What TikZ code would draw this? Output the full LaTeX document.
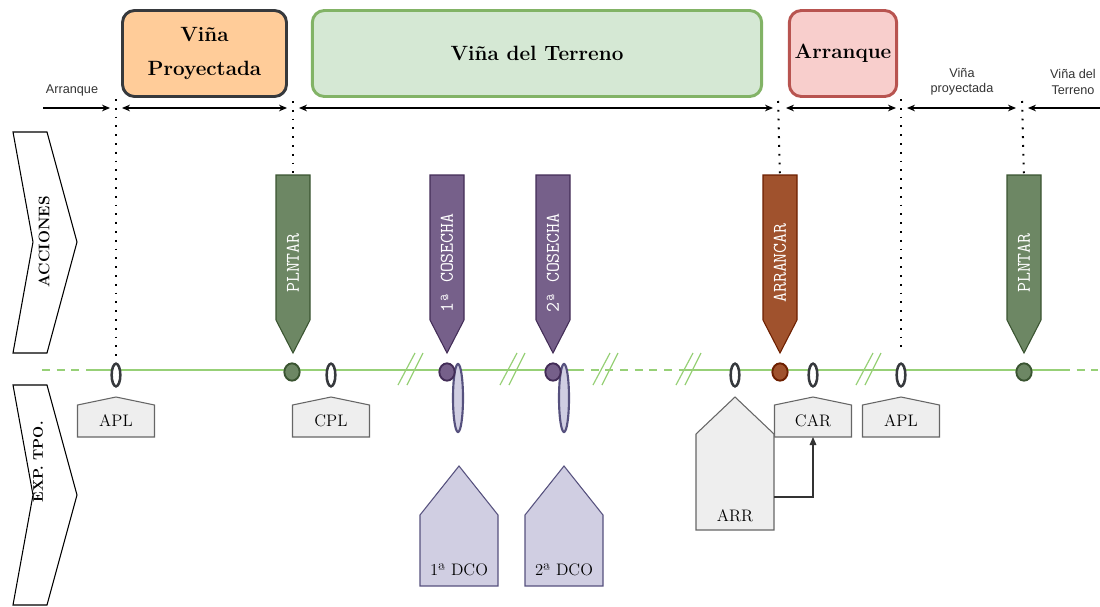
\documentclass[tikz,border=0pt]{standalone}
\usepackage{fontspec}
\newfontfamily\sansf{Liberation Sans}
\usetikzlibrary{arrows.meta,shapes.geometric}
\definecolor{orangeF}{HTML}{FFCC99}
\definecolor{darkB}{HTML}{36393D}
\definecolor{greenF}{HTML}{D5E8D4}
\definecolor{greenB}{HTML}{82B366}
\definecolor{redF}{HTML}{F8CECC}
\definecolor{redB}{HTML}{B85450}
\definecolor{plF}{HTML}{6D8764}
\definecolor{plB}{HTML}{3A5431}
\definecolor{puF}{HTML}{76608A}
\definecolor{puB}{HTML}{432D57}
\definecolor{arF}{HTML}{A0522D}
\definecolor{arB}{HTML}{6D1F00}
\definecolor{lpF}{HTML}{D0CEE2}
\definecolor{lpB}{HTML}{56517E}
\definecolor{grF}{HTML}{EEEEEE}
\definecolor{grB}{HTML}{666666}
\definecolor{tlC}{HTML}{97D077}
\begin{document}
\begin{tikzpicture}[x=0.75pt,y=-0.75pt,
  topbox/.style={rounded corners=9pt, line width=2.2pt, minimum width=#1, minimum height=64.5pt,
    inner sep=0pt, align=center, font=\fontsize{15.5}{25}\selectfont\bfseries},
  sidetext/.style={font=\fontsize{#1}{12}\selectfont\bfseries, rotate=90, inner sep=0pt},
  smalltext/.style={font=\sansf\fontsize{9.5}{11.5}\selectfont, align=center, text=black!80, inner sep=0pt},
  spanarrow/.style={line width=0.8pt, {Stealth[length=6pt,width=5pt]}-{Stealth[length=6pt,width=5pt]}},
  onearrow/.style={line width=0.8pt, -{Stealth[length=6pt,width=5pt]}},
  dotline/.style={line width=1.5pt, dash pattern=on 1.4pt off 5.2pt},
  tline/.style={tlC, line width=1.6pt},
  tdash/.style={tlC, line width=1.6pt, dash pattern=on 6pt off 5pt},
  brk/.style={tlC, line width=0.9pt},
  openel/.style={ellipse, draw=darkB, fill=white, line width=1.9pt, minimum width=6.5pt, minimum height=17pt, inner sep=0pt},
  dotc/.style={ellipse, line width=1.4pt, minimum width=11.5pt, minimum height=13pt, inner sep=0pt},
  tallel/.style={ellipse, draw=lpB, fill=lpF, line width=1.6pt, minimum width=7.5pt, minimum height=51pt, inner sep=0pt},
  acttext/.style={font=\ttfamily\fontsize{14.5}{16}\selectfont, text=white, rotate=90, inner sep=0pt},
  housetext/.style={font=\fontsize{12.5}{15}\selectfont, inner sep=0pt},
  house/.style={line width=0.8pt}
]
\useasboundingbox (0,0) rectangle (1100,607);

% ---------- top boxes ----------
\node[topbox=123pt, fill=orangeF, draw=darkB] (vp) at (204.5,53.5) {Viña\\Proyectada};
\node[topbox=337pt, fill=greenF, draw=greenB] (vt) at (537,53.5) {Viña del Terreno};
\node[topbox=80.5pt, fill=redF, draw=redB] (ar) at (843,53.5) {Arranque};

% ---------- small labels ----------
\node[smalltext] (l1) at (72,90) {Arranque};
\node[smalltext] (l2) at (962,82) {Viña\\proyectada};
\node[smalltext] (l3) at (1073,82) {Viña del\\Terreno};

% ---------- span arrows ----------
\coordinate (s0a) at (43,108);   \coordinate (s0b) at (110,108);
\coordinate (s1a) at (122,108);  \coordinate (s1b) at (287,108);
\coordinate (s2a) at (299,108);  \coordinate (s2b) at (773,108);
\coordinate (s3a) at (786,108);  \coordinate (s3b) at (896,108);
\coordinate (s4a) at (907,108);  \coordinate (s4b) at (1016,108);
\coordinate (s5a) at (1100,108); \coordinate (s5b) at (1028,108);
\draw[onearrow] (s0a) -- (s0b);
\draw[spanarrow] (s1a) -- (s1b);
\draw[spanarrow] (s2a) -- (s2b);
\draw[spanarrow] (s3a) -- (s3b);
\draw[spanarrow] (s4a) -- (s4b);
\draw[onearrow] (s5a) -- (s5b);

% ---------- side chevrons ----------
\draw[line width=0.8pt, fill=white] (13,132) -- (47,132) -- (77,242) -- (47,353) -- (13,353) -- (33,242) -- cycle;
\node[sidetext=11.5] (acc) at (44,242) {ACCIONES};
\draw[line width=0.8pt, fill=white] (13,385) -- (47,385) -- (77,495) -- (47,605) -- (13,605) -- (33,495) -- cycle;
\node[sidetext=10.5] (exp) at (38,462) {EXP. TPO.};

% ---------- timeline ----------
\coordinate (t0) at (42,370);  \coordinate (t1) at (92,370);
\coordinate (t2) at (576,370); \coordinate (t3) at (684,370);
\coordinate (t4) at (1062,370); \coordinate (t5) at (1098,370);
\draw[tdash] (t0) -- (t1);
\draw[tline] (t1) -- (t2);
\draw[tdash] (t2) -- (t3);
\draw[tline] (t3) -- (t4);
\draw[tdash] (t4) -- (t5);

% break marks
\foreach \cx in {410,512,605,688,868}{
  \draw[brk] (\cx-12,385) -- (\cx+5,353);
  \draw[brk] (\cx-3,385) -- (\cx+13,353);
}

% ---------- action arrows ----------
\foreach \xx/\ff/\bb/\lab/\nm in {293/plF/plB/PLNTAR/a1, 447/puF/puB/{1ª COSECHA}/a2, 553/puF/puB/{2ª COSECHA}/a3, 780/arF/arB/ARRANCAR/a4, 1024/plF/plB/PLNTAR/a5}{
  \draw[fill=\ff, draw=\bb, line width=0.8pt] (\xx-17,175) -- (\xx+17,175) -- (\xx+17,320) -- (\xx,353) -- (\xx-17,320) -- cycle;
  \node[acttext] (\nm) at (\xx,263) {\lab};
  \coordinate (\nm top) at (\xx,175);
}

% ---------- timeline markers ----------
\node[openel] (o1) at (116,375) {};
\node[openel] (o2) at (331,375) {};
\node[openel] (o3) at (735,375) {};
\node[openel] (o4) at (813,375) {};
\node[openel] (o5) at (901,375) {};
\node[dotc, fill=plF, draw=plB] (c1) at (292,372) {};
\node[tallel] (te1) at (458,398) {};
\node[dotc, fill=puF, draw=puB] (c2) at (447,372) {};
\node[tallel] (te2) at (564,398) {};
\node[dotc, fill=puF, draw=puB] (c3) at (553,372) {};
\node[dotc, fill=arF, draw=arB] (c4) at (780,372) {};
\node[dotc, fill=plF, draw=plB] (c5) at (1024,372) {};

% ---------- dotted guides ----------
\coordinate (g1) at (116,99);  \coordinate (g1b) at (116,358);
\coordinate (g2) at (293,101);
\coordinate (g3) at (778,101);
\coordinate (g4) at (901,99);  \coordinate (g4b) at (901,347);
\coordinate (g5) at (1022,101);
\draw[dotline] (g1) -- (g1b);
\draw[dotline] (g2) -- (a1top);
\draw[dotline] (g3) -- (a4top);
\draw[dotline] (g4) -- (g4b);
\draw[dotline] (g5) -- (a5top);

% ---------- bottom houses ----------
\foreach \cx/\lab/\nm in {116/APL/h1, 331/CPL/h2, 813/CAR/h3, 901/APL/h4}{
  \draw[house, fill=grF, draw=grB] (\cx,397) -- (\cx+38.5,405) -- (\cx+38.5,437) -- (\cx-38.5,437) -- (\cx-38.5,405) -- cycle;
  \node[housetext] (\nm) at (\cx,421) {\lab};
}
\draw[house, fill=grF, draw=grB] (735,397) -- (774,434) -- (774,530) -- (696,530) -- (696,434) -- cycle;
\node[housetext] (arr) at (735,516) {ARR};
\foreach \cx/\lab/\nm in {459/{1ª DCO}/d1, 564/{2ª DCO}/d2}{
  \draw[house, fill=lpF, draw=lpB] (\cx,466) -- (\cx+39,515) -- (\cx+39,586) -- (\cx-39,586) -- (\cx-39,515) -- cycle;
  \node[housetext] (\nm) at (\cx,570) {\lab};
}
\coordinate (arrR) at (774,497);
\coordinate (carB) at (813,437);
\draw[line width=0.8pt, draw=black!80, -{Triangle[length=6pt,width=5pt]}] (arrR) -| (carB);
\end{tikzpicture}
\end{document}
